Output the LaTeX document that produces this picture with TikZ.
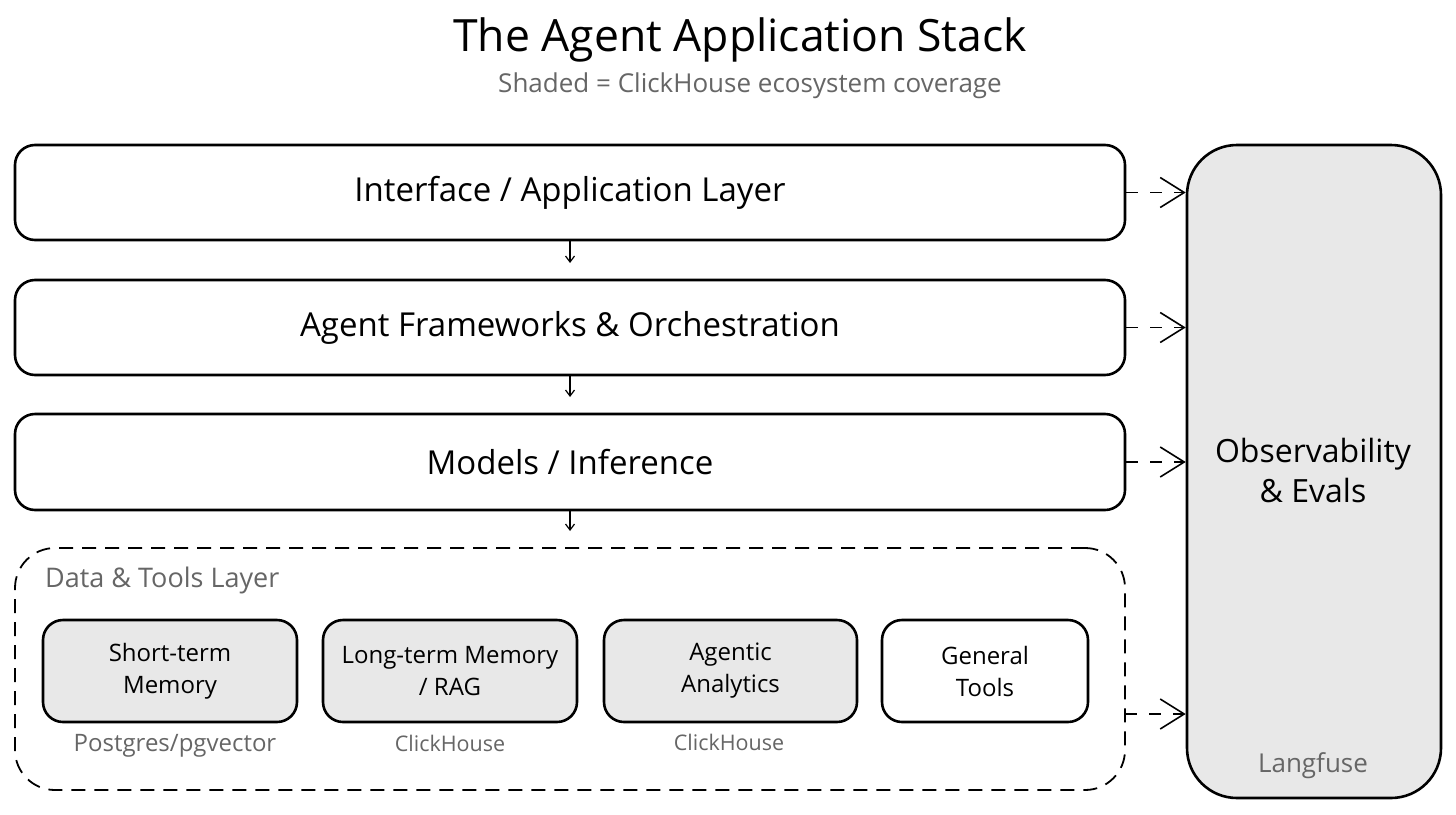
\documentclass[tikz,border=0pt]{standalone}
\usepackage{fontspec}
\setmainfont{Open Sans}
\usetikzlibrary{arrows.meta}
\definecolor{shade}{HTML}{E8E8E8}
\definecolor{note}{HTML}{666666}
\tikzset{
  layer/.style={draw=black, line width=2.6pt, rounded corners=20pt, fill=white,
    minimum width=1110pt, minimum height=95pt, font=\fontsize{33}{40}\selectfont},
  cell/.style={draw=black, line width=2.6pt, rounded corners=20pt, fill=shade,
    minimum height=102pt, align=center, font=\fontsize{24}{32}\selectfont},
  notelabel/.style={text=note, font=\fontsize{24}{28}\selectfont, inner sep=0pt},
  downarrow/.style={-{Straight Barb[length=6pt,width=9pt]}, line width=1.2pt},
  obsarrow/.style={dashed, dash pattern=on 12pt off 12pt, line width=1.6pt,
    -{Straight Barb[length=24pt,width=30pt,line width=1.6pt]}},
}
\begin{document}
\begin{tikzpicture}[x=1pt,y=-1pt]
\useasboundingbox (0,0) rectangle (1456,814);
\fill[white] (0,0) rectangle (1456,814);

\node[font=\fontsize{44.5}{50}\selectfont, inner sep=0pt] (title) at (740,40) {The Agent Application Stack};
\node[text=note, font=\fontsize{26}{30}\selectfont, inner sep=0pt] (subtitle) at (750,86) {Shaded = ClickHouse ecosystem coverage};

\node[layer] (b1) at (570,192.5) {Interface / Application Layer};
\node[layer] (b2) at (570,327.5) {Agent Frameworks \& Orchestration};
\node[layer, minimum height=96pt] (b3) at (570,462) {Models / Inference};

\node[draw=black, line width=1.8pt, dashed, dash pattern=on 14pt off 9pt, rounded corners=40pt,
  minimum width=1110pt, minimum height=242pt] (grp) at (570,669) {};
\node[text=note, font=\fontsize{27}{32}\selectfont, inner sep=0pt, anchor=west] (grplabel) at (45,580) {Data \& Tools Layer};

\node[cell, minimum width=254pt] (c1) at (170,671) {Short-term\\Memory};
\node[cell, minimum width=254pt] (c2) at (450,671) {Long-term Memory\\/ RAG};
\node[cell, minimum width=253pt] (c3) at (730.5,671) {Agentic\\Analytics};
\node[cell, minimum width=206pt, fill=white] (c4) at (985,671) {General\\Tools};

\node[notelabel] (n1) at (175,746) {Postgres/pgvector};
\node[notelabel, font=\fontsize{21.5}{26}\selectfont] (n2) at (450,743) {ClickHouse};
\node[notelabel, font=\fontsize{21.5}{26}\selectfont] (n3) at (729,742) {ClickHouse};

\node[draw=black, line width=2.6pt, rounded corners=50pt, fill=shade,
  minimum width=254pt, minimum height=653pt] (obs) at (1314,471.5) {};
\node[align=center, font=\fontsize{32}{40}\selectfont] (obstext) at (1313,470) {Observability\\\& Evals};
\node[notelabel, font=\fontsize{26}{30}\selectfont] (lang) at (1313,766) {Langfuse};

\coordinate (a1) at (570,263);
\coordinate (a2) at (570,397);
\coordinate (a3) at (570,531);
\draw[downarrow] (b1.south) -- (a1);
\draw[downarrow] (b2.south) -- (a2);
\draw[downarrow] (b3.south) -- (a3);

\coordinate (g4) at (1125,714);
\draw[obsarrow] (b1.east) -- (b1.east -| obs.west);
\draw[obsarrow] (b2.east) -- (b2.east -| obs.west);
\draw[obsarrow] (b3.east) -- (b3.east -| obs.west);
\draw[obsarrow] (g4) -- (g4 -| obs.west);
\end{tikzpicture}
\end{document}
